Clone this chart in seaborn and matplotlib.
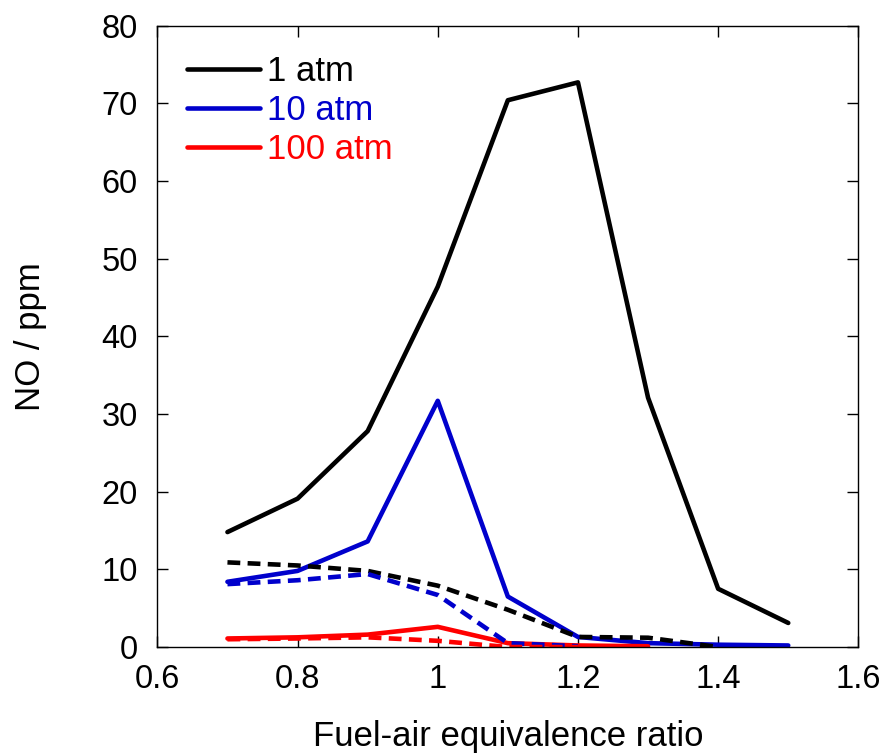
import numpy as np
import pandas as pd
import matplotlib
matplotlib.use("Agg")
import matplotlib.pyplot as plt
import seaborn as sns

sns.set_style("ticks")
plt.rcParams['font.family'] = ['Liberation Sans', 'DejaVu Sans']
plt.rcParams['text.color'] = 'black'
plt.rcParams['axes.labelcolor'] = 'black'
plt.rcParams['xtick.color'] = 'black'
plt.rcParams['ytick.color'] = 'black'
plt.rcParams['axes.edgecolor'] = 'black'

# equivalence ratio
phi = [0.7, 0.8, 0.9, 1.0, 1.1, 1.2, 1.3, 1.4, 1.5]

# solid lines
no_1atm = [14.8, 19.1, 27.8, 46.4, 70.4, 72.7, 32.1, 7.5, 3.1]
no_10atm = [8.4, 9.8, 13.6, 31.7, 6.5, 1.3, 0.5, 0.3, 0.2]
no_100atm = [1.1, 1.25, 1.6, 2.6, 0.5, 0.2, 0.1]

# dashed lines
no_1atm_d = [10.9, 10.5, 9.8, 7.9, 4.8, 1.3, 1.2, 0.0]
no_10atm_d = [8.1, 8.6, 9.4, 6.7, 0.5, 0.1]
no_100atm_d = [1.0, 1.1, 1.25, 0.8, 0.0, 0.0]

labels = ['1 atm', '10 atm', '100 atm']
colors = ['black', '#0000CC', '#FF0000']

fig, ax = plt.subplots(figsize=(8.84, 7.55), dpi=100)
fig.subplots_adjust(left=0.178, right=0.971, top=0.966, bottom=0.143)

solid = [no_1atm, no_10atm, no_100atm]
dashed = [no_1atm_d, no_10atm_d, no_100atm_d]

for ys, lab, c in zip(solid, labels, colors):
    sns.lineplot(x=phi[:len(ys)], y=ys, color=c, lw=3.3, label=lab, ax=ax)
for ys, c in zip(dashed, colors):
    sns.lineplot(x=phi[:len(ys)], y=ys, color=c, lw=3.3, ls=(0, (2.8, 1.6)), ax=ax)

ax.set_xlim(0.6, 1.6)
ax.set_ylim(0, 80)
ax.set_xticks([0.6, 0.8, 1.0, 1.2, 1.4, 1.6])
ax.set_xticklabels(['0.6', '0.8', '1', '1.2', '1.4', '1.6'])
ax.set_yticks(range(0, 81, 10))
ax.tick_params(direction='in', length=8, width=1, labelsize=23.5, top=True, right=True)
ax.tick_params(axis='x', pad=12)
ax.tick_params(axis='y', pad=14)
for s in ax.spines.values():
    s.set_linewidth(1)
ax.set_xlabel('Fuel-air equivalence ratio', fontsize=25, labelpad=18)
ax.set_ylabel('NO / ppm', fontsize=25, labelpad=39)

leg = ax.legend(loc='upper left', frameon=False, fontsize=25, handlelength=2.1,
                handletextpad=0.2, borderaxespad=0.45, labelspacing=0.17)
for txt, c in zip(leg.get_texts(), colors):
    txt.set_color(c)

fig.savefig('out.png', dpi=100)
